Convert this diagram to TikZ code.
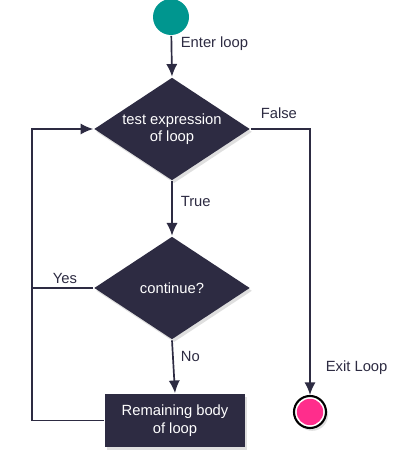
\documentclass[tikz,border=0pt]{standalone}
\usepackage{fontspec}
\setmainfont{Liberation Sans}
\usepackage{tikz}
\usetikzlibrary{arrows.meta,shapes.geometric,shadows}
\definecolor{scuro}{HTML}{2D2B42}
\definecolor{verde}{HTML}{00968F}
\definecolor{rosa}{HTML}{FF2D8C}
\tikzset{
	ombra/.style={drop shadow={opacity=0.25,shadow xshift=1.5pt,shadow yshift=-2pt}},
	decisione/.style={diamond, shape aspect=1.5, fill=scuro, text=white, minimum width=3.9cm, minimum height=2.575cm, inner sep=0pt, align=center, ombra},
	blocco/.style={rectangle, fill=scuro, text=white, minimum width=3.5cm, minimum height=1.325cm, inner sep=0pt, align=center, ombra},
	etichetta/.style={anchor=west, inner sep=0pt}
}

\begin{document}
\begin{tikzpicture}[>={Latex[length=9pt,width=8pt]}, font=\fontsize{10.5}{12.5}\selectfont, color=scuro, line width=1.2pt]
	\fill[white] (0,0) rectangle (10,11.7);
	\useasboundingbox (0,0) rectangle (10,11.7);
	%Inizio
	\node [circle, fill=verde, minimum size=0.9cm, inner sep=0pt] (inizio) at (4.275,11.275) {};
	%Condizione
	\node [decisione] (test) at (4.3,8.475) {test expression\\of loop};
	%Continua
	\node [decisione] (cont) at (4.3,4.5) {continue?};
	%Corpo
	\node [blocco] (corpo) at (4.375,1.1875) {Remaining body\\of loop};
	%Uscita
	\node [circle, draw=black, fill=white, line width=1.5pt, minimum size=0.8cm, inner sep=0pt, ombra,
		path picture={\fill[rosa] (path picture bounding box.center) circle (0.33cm);}] (uscita) at (7.75,1.4) {};
	%Ritorno
	\coordinate (sx) at (0.8,0);
	%Collegamenti
	\draw [->] (inizio) -- (test.north);
	\draw [->] (test.south) -- (cont.north);
	\draw [->] (cont.south) -- (corpo.north);
	\draw [->] (test.east) -| (uscita.north);
	\draw (cont.west) -- (cont.west -| sx);
	\draw [->] (corpo.west) -- (corpo.west -| sx) -- (test.west -| sx) -- (test.west);
	%Etichette
	\node [etichetta] (entra) at (4.5,10.6) {Enter loop};
	\node [etichetta] (falso) at (6.5,8.875) {False};
	\node [etichetta] (vero) at (4.5,6.65) {True};
	\node [etichetta] (si) at (1.3,4.75) {Yes};
	\node [etichetta] (no) at (4.5,2.8) {No};
	\node [etichetta] (esci) at (8.125,2.5) {Exit Loop};
\end{tikzpicture}
\end{document}
